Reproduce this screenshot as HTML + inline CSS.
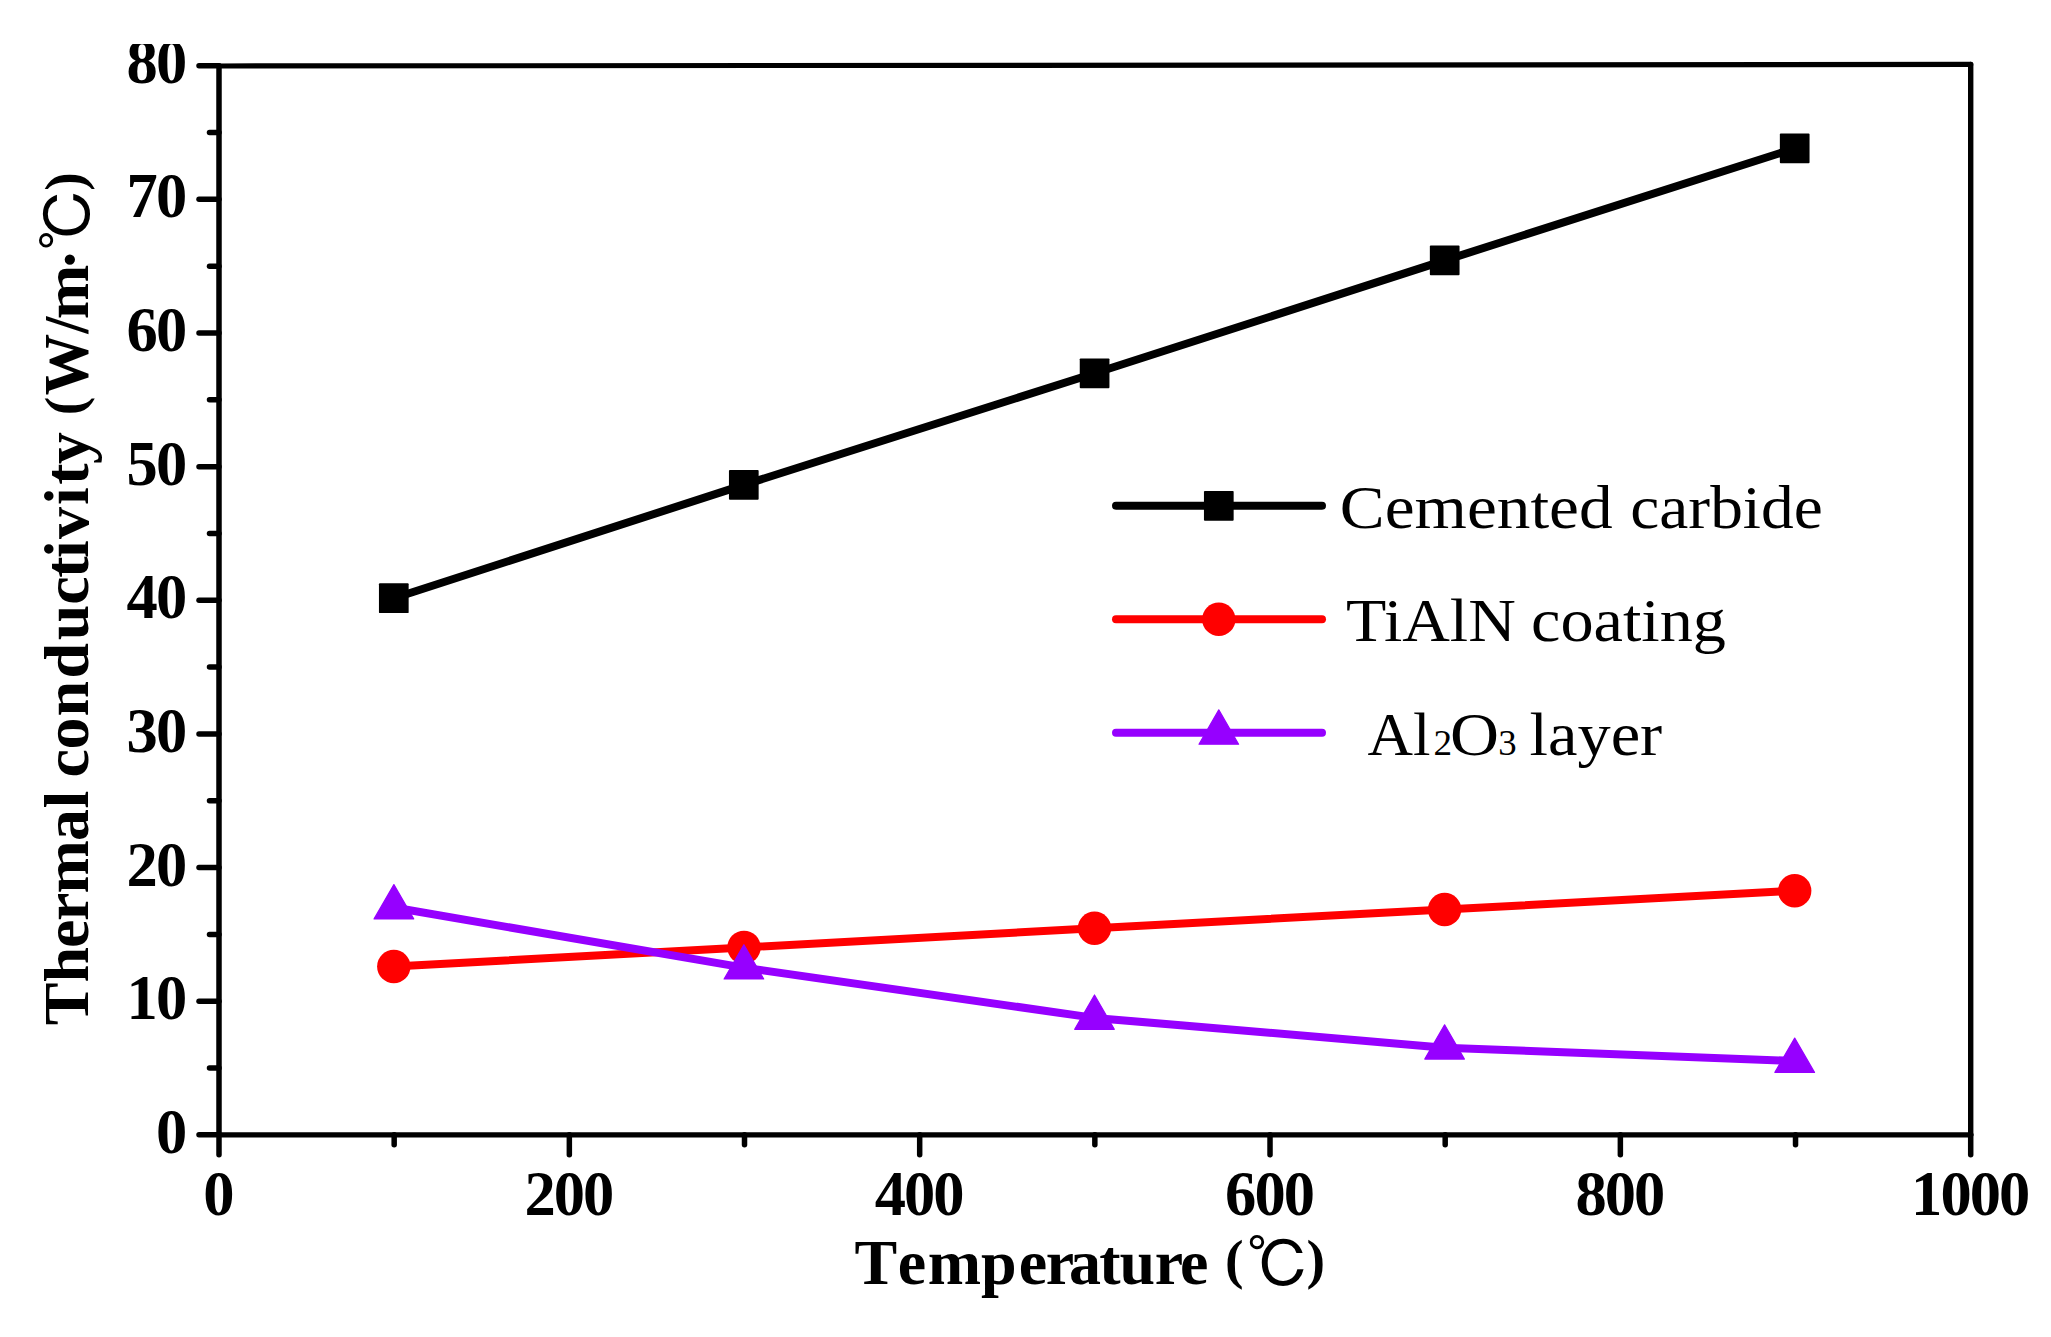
<!DOCTYPE html>
<html lang="en"><head><meta charset="utf-8"><title>Thermal conductivity vs temperature</title>
<style>
html,body{margin:0;padding:0;background:#fff;}
body{width:2051px;height:1337px;overflow:hidden;}
svg{display:block;position:absolute;left:0;top:0;}
text{font-family:"Liberation Serif","Noto Sans CJK SC",serif;fill:#000;}
.tk{font-weight:bold;font-size:62.5px;letter-spacing:-1.95px;}
.ttl{font-weight:bold;font-size:64px;}
.pn{font-size:55.8px;}
.lg{font-size:61.5px;}
.cj{font-family:"IPAGothic","WenQuanYi Zen Hei","Noto Sans CJK JP",sans-serif;font-weight:normal;font-size:64px;}
</style></head><body>
<svg width="2051" height="1337" viewBox="0 0 2051 1337">
<rect x="0" y="0" width="2051" height="1337" fill="#ffffff"/>

<g stroke="#000" stroke-linecap="round" fill="none">
<line x1="219.0" y1="66.0" x2="1970.7" y2="64.45" stroke-width="5.2"/>
<line x1="219.0" y1="1134.85" x2="1970.7" y2="1134.85" stroke-width="5.3"/>
<line x1="219.0" y1="66.0" x2="219.0" y2="1134.85" stroke-width="5.5"/>
<line x1="1970.7" y1="64.45" x2="1970.7" y2="1134.85" stroke-width="5.4"/>
</g>
<g stroke="#000" stroke-width="5.5" stroke-linecap="round" fill="none">
<line x1="199.00" y1="1134.85" x2="219.0" y2="1134.85"/>
<line x1="209.50" y1="1068.03" x2="219.0" y2="1068.03"/>
<line x1="199.00" y1="1001.21" x2="219.0" y2="1001.21"/>
<line x1="209.50" y1="934.38" x2="219.0" y2="934.38"/>
<line x1="199.00" y1="867.56" x2="219.0" y2="867.56"/>
<line x1="209.50" y1="800.74" x2="219.0" y2="800.74"/>
<line x1="199.00" y1="733.92" x2="219.0" y2="733.92"/>
<line x1="209.50" y1="667.10" x2="219.0" y2="667.10"/>
<line x1="199.00" y1="600.27" x2="219.0" y2="600.27"/>
<line x1="209.50" y1="533.45" x2="219.0" y2="533.45"/>
<line x1="199.00" y1="466.63" x2="219.0" y2="466.63"/>
<line x1="209.50" y1="399.81" x2="219.0" y2="399.81"/>
<line x1="199.00" y1="332.99" x2="219.0" y2="332.99"/>
<line x1="209.50" y1="266.17" x2="219.0" y2="266.17"/>
<line x1="199.00" y1="199.34" x2="219.0" y2="199.34"/>
<line x1="209.50" y1="132.52" x2="219.0" y2="132.52"/>
<line x1="199.00" y1="65.70" x2="219.0" y2="65.70"/>
<line x1="219.00" y1="1134.85" x2="219.00" y2="1154.85"/>
<line x1="394.17" y1="1134.85" x2="394.17" y2="1144.65"/>
<line x1="569.34" y1="1134.85" x2="569.34" y2="1154.85"/>
<line x1="744.51" y1="1134.85" x2="744.51" y2="1144.65"/>
<line x1="919.68" y1="1134.85" x2="919.68" y2="1154.85"/>
<line x1="1094.85" y1="1134.85" x2="1094.85" y2="1144.65"/>
<line x1="1270.02" y1="1134.85" x2="1270.02" y2="1154.85"/>
<line x1="1445.19" y1="1134.85" x2="1445.19" y2="1144.65"/>
<line x1="1620.36" y1="1134.85" x2="1620.36" y2="1154.85"/>
<line x1="1795.53" y1="1134.85" x2="1795.53" y2="1144.65"/>
<line x1="1970.70" y1="1134.85" x2="1970.70" y2="1154.85"/>
</g>
<clipPath id="lc"><rect x="0" y="44" width="2051" height="1293"/></clipPath>
<g class="tk" clip-path="url(#lc)">
<text x="155.9" y="1152.9">0</text>
<text x="126.6" y="1019.3">10</text>
<text x="126.6" y="885.7">20</text>
<text x="126.6" y="752.0">30</text>
<text x="126.6" y="618.4">40</text>
<text x="126.6" y="484.7">50</text>
<text x="126.6" y="351.1">60</text>
<text x="126.6" y="217.4">70</text>
<text x="126.6" y="82.9">80</text>
<text x="203.3" y="1214.7">0</text>
<text x="524.4" y="1214.7">200</text>
<text x="874.7" y="1214.7">400</text>
<text x="1225.1" y="1214.7">600</text>
<text x="1575.4" y="1214.7">800</text>
<text x="1911.1" y="1214.7">1000</text>
</g>
<polyline points="393.8,598.2 743.8,484.9 1094.6,373.3 1444.7,260.4 1794.7,148.4" fill="none" stroke="#000" stroke-width="8" stroke-linejoin="round" stroke-linecap="round"/>
<rect x="378.95" y="583.35" width="29.7" height="29.7" rx="0.9" fill="#000"/>
<rect x="728.95" y="470.05" width="29.7" height="29.7" rx="0.9" fill="#000"/>
<rect x="1079.75" y="358.45" width="29.7" height="29.7" rx="0.9" fill="#000"/>
<rect x="1429.85" y="245.55" width="29.7" height="29.7" rx="0.9" fill="#000"/>
<rect x="1779.85" y="133.55" width="29.7" height="29.7" rx="0.9" fill="#000"/>
<polyline points="393.8,966.5 744.0,947.4 1094.5,928.2 1444.6,909.5 1794.7,890.8" fill="none" stroke="#ff0000" stroke-width="8" stroke-linejoin="round" stroke-linecap="round"/>
<circle cx="393.8" cy="966.5" r="16.7" fill="#ff0000"/>
<circle cx="744.0" cy="947.4" r="16.7" fill="#ff0000"/>
<circle cx="1094.5" cy="928.2" r="16.7" fill="#ff0000"/>
<circle cx="1444.6" cy="909.5" r="16.7" fill="#ff0000"/>
<circle cx="1794.7" cy="890.8" r="16.7" fill="#ff0000"/>
<polyline points="393.9,907.5 743.9,967.6 1094.5,1017.9 1444.6,1047.7 1794.7,1061.0" fill="none" stroke="#9600ff" stroke-width="8" stroke-linejoin="round" stroke-linecap="round"/>
<polygon points="393.9,884.6 413.7,918.9 374.1,918.9" fill="#9600ff" stroke="#9600ff" stroke-width="1.2" stroke-linejoin="round"/>
<polygon points="743.9,944.7 763.7,979.0 724.1,979.0" fill="#9600ff" stroke="#9600ff" stroke-width="1.2" stroke-linejoin="round"/>
<polygon points="1094.5,995.0 1114.3,1029.3 1074.7,1029.3" fill="#9600ff" stroke="#9600ff" stroke-width="1.2" stroke-linejoin="round"/>
<polygon points="1444.6,1024.8 1464.4,1059.1 1424.8,1059.1" fill="#9600ff" stroke="#9600ff" stroke-width="1.2" stroke-linejoin="round"/>
<polygon points="1794.7,1038.1 1814.5,1072.4 1774.9,1072.4" fill="#9600ff" stroke="#9600ff" stroke-width="1.2" stroke-linejoin="round"/>
<line x1="1116" y1="505.8" x2="1322" y2="505.8" stroke="#000" stroke-width="8" stroke-linecap="round"/>
<rect x="1203.95" y="490.95" width="29.7" height="29.7" rx="0.9" fill="#000"/>
<line x1="1116" y1="619.3" x2="1322" y2="619.3" stroke="#ff0000" stroke-width="8" stroke-linecap="round"/>
<circle cx="1218.8" cy="619.3" r="16.7" fill="#ff0000"/>
<line x1="1116" y1="732.8" x2="1322" y2="732.8" stroke="#9600ff" stroke-width="8" stroke-linecap="round"/>
<polygon points="1218.8,709.9 1238.6,744.2 1199.0,744.2" fill="#9600ff" stroke="#9600ff" stroke-width="1.2" stroke-linejoin="round"/>
<g class="lg">
<text y="527.6"><tspan x="1339.8" textLength="272.8" lengthAdjust="spacingAndGlyphs">Cemented</tspan> <tspan x="1630.3" textLength="192.5" lengthAdjust="spacingAndGlyphs">carbide</tspan></text>
<text y="641.2"><tspan x="1346.0" textLength="169.8" lengthAdjust="spacingAndGlyphs">TiAlN</tspan> <tspan x="1531.0" textLength="195.0" lengthAdjust="spacingAndGlyphs">coating</tspan></text>
<text y="755.2"><tspan x="1367.6" textLength="63.0" lengthAdjust="spacingAndGlyphs">Al</tspan><tspan x="1433.4" textLength="18.6" lengthAdjust="spacingAndGlyphs" font-size="35">2</tspan><tspan x="1450.0" textLength="49.0" lengthAdjust="spacingAndGlyphs">O</tspan><tspan x="1498.2" textLength="18.4" lengthAdjust="spacingAndGlyphs" font-size="35">3</tspan> <tspan x="1529.6" textLength="132.6" lengthAdjust="spacingAndGlyphs">layer</tspan></text>
</g>
<g class="ttl">
<text y="1283.6"><tspan x="854.5 897.8 927.7 981.0 1018.8 1045.7 1069.0 1099.2 1119.5 1154.8 1180.0">Temperature</tspan> <tspan class="pn" x="1224.9" y="1278.0">(</tspan><tspan class="cj" x="1246.4" y="1288.1">℃</tspan><tspan class="pn" x="1306.5" y="1278.0">)</tspan></text>
</g>
<g class="ttl" transform="translate(88.2,1022.6) rotate(-90)">
<text y="0"><tspan x="-2.7 40.0 74.6 101.6 129.2 181.5 214.0">Thermal</tspan> <tspan x="245.2 273.2 306.0 344.2 382.3 417.8 444.8 464.6 483.6 517.5 537.9 558.7">conductivity</tspan> <tspan class="pn" x="607.4" y="-5.2">(</tspan><tspan x="627.3" y="0" textLength="78.5" lengthAdjust="spacingAndGlyphs">W/</tspan><tspan x="703.3" y="0" textLength="54.6" lengthAdjust="spacingAndGlyphs">m</tspan><tspan x="752.4" y="2.4">·</tspan><tspan class="cj" x="771.9" y="3.5">℃</tspan><tspan class="pn" x="831.8" y="-5.2">)</tspan></text>
</g>
</svg></body></html>
